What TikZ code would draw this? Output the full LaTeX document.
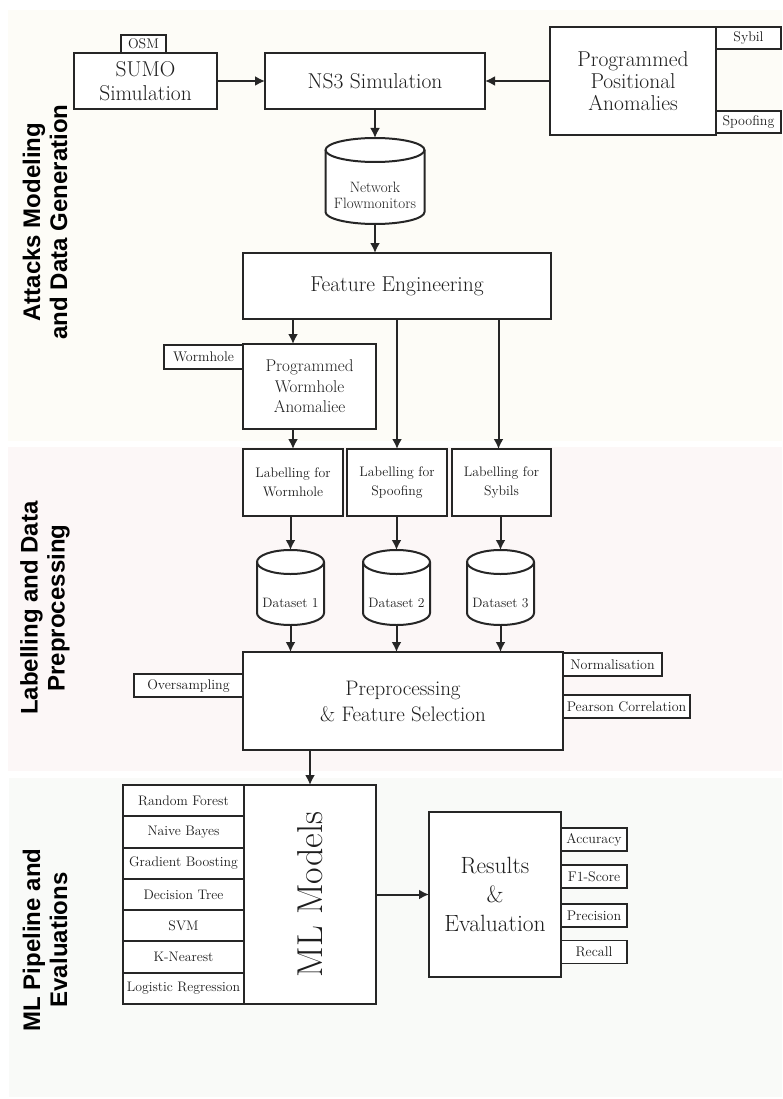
\documentclass[tikz,border=0pt]{standalone}
\usepackage{fontspec}
\usepackage{graphicx}
\newfontfamily\sidefont{Liberation Sans}
\usetikzlibrary{arrows.meta,calc}
\definecolor{panA}{RGB}{253,252,247}
\definecolor{panB}{RGB}{252,247,247}
\definecolor{panC}{RGB}{249,250,248}
\definecolor{ink}{RGB}{38,38,38}
\definecolor{txt}{RGB}{30,30,30}
\pgfdeclarelayer{bg}\pgfdeclarelayer{mid}\pgfsetlayers{bg,mid,main}
\newcommand\fs[2]{\fontsize{#1}{#2}\selectfont}
\newcommand\cylinder[2]{%
  \draw[cyl] ([yshift=-12pt]#1.north west) -- ([yshift=12pt]#1.south west)
    arc[start angle=180,end angle=360,x radius=#2,y radius=12pt]
    -- ([yshift=-12pt]#1.north east)
    arc[start angle=0,end angle=180,x radius=#2,y radius=12pt] -- cycle;
  \draw[draw=ink,line width=2pt] ([yshift=-12pt]#1.north west)
    arc[start angle=180,end angle=360,x radius=#2,y radius=12pt];
}
\tikzset{
  box/.style={draw=ink, line width=2pt, fill=white, inner sep=0pt, outer sep=0pt, align=center, text=txt},
  tag/.style={draw=ink, line width=1.7pt, fill=white, inner sep=0pt, outer sep=0pt, align=center, text=txt, font=\fs{14}{15}},
  big/.style={font=\fs{21.5}{24}},
  arr/.style={draw=ink, line width=2pt, -{Latex[length=10pt,width=10pt]}},
  cyl/.style={draw=ink, line width=2pt, fill=white},
  cylnode/.style={inner sep=0pt, outer sep=0pt},
  cyltext/.style={align=center, text=txt, inner sep=0pt},
  side/.style={rotate=90, align=center, font=\sidefont\bfseries\fs{24}{27}, text=black},
}
\begin{document}
\begin{tikzpicture}[x=1pt,y=1pt]
\useasboundingbox (0,0) rectangle (782,-1099);
\begin{pgfonlayer}{bg}
  \fill[white] (0,0) rectangle (782,-1099);
  \fill[panA] (8,-10) rectangle (782,-441);
  \fill[panB] (8,-447) rectangle (782,-771);
  \fill[panC] (9,-778) rectangle (782,-1097);
\end{pgfonlayer}

% side labels
\node[side] (sideA) at (45,-222) {Attacks Modeling\\and Data Generation};
\node[side] (sideB) at (45,-608) {Labelling and Data\\Preprocessing};
\node[side] (sideC) at (45,-940) {ML Pipeline and\\Evaluations};

% top section
\node[box, big, minimum width=143pt, minimum height=56pt] (sumo) at (145.5,-81) {SUMO\\Simulation};
\node[tag, minimum width=45pt, minimum height=18pt] (osm) at (143.5,-44) {OSM};
\node[box, big, minimum width=220pt, minimum height=56pt] (ns3) at (375,-81) {NS3 Simulation};
\node[box, font=\fs{21.5}{22}, minimum width=166pt, minimum height=108pt] (ppa) at (633,-81) {Programmed\\Positional\\Anomalies};
\node[tag, minimum width=65pt, minimum height=22pt] (sybil) at (748.5,-38) {Sybil};
\node[tag, minimum width=65pt, minimum height=22pt] (spoof) at (748.5,-122) {Spoofing};

\node[cylnode, minimum width=99pt, minimum height=86pt] (nfm) at (375,-181) {};
\node[cyltext, font=\fs{15}{16}] (nfmt) at (375,-195) {Network\\Flowmonitors};

\node[box, big, minimum width=308pt, minimum height=66pt] (fe) at (397,-286) {Feature Engineering};
\node[box, font=\fs{17}{20.5}, minimum width=133pt, minimum height=85pt] (pwa) at (309.5,-386.5) {Programmed\\Wormhole\\Anomaliee};
\node[tag, minimum width=79pt, minimum height=24pt] (worm) at (203.5,-357) {Wormhole};

% labelling
\node[box, font=\fs{13.8}{19}, minimum width=100pt, minimum height=67pt] (lab1) at (293,-482.5) {Labelling for\\Wormhole};
\node[box, font=\fs{13.8}{19}, minimum width=100pt, minimum height=67pt] (lab2) at (397,-482.5) {Labelling for\\Spoofing};
\node[box, font=\fs{13.8}{19}, minimum width=99pt, minimum height=67pt] (lab3) at (501.5,-482.5) {Labelling for\\Sybils};

\node[cylnode, minimum width=67pt, minimum height=75pt] (ds1) at (290.5,-587.5) {};
\node[cylnode, minimum width=67pt, minimum height=75pt] (ds2) at (396.5,-587.5) {};
\node[cylnode, minimum width=67pt, minimum height=75pt] (ds3) at (500.5,-587.5) {};
\node[cyltext, font=\fs{13.6}{15}] (ds1t) at (290.5,-603) {Dataset 1};
\node[cyltext, font=\fs{13.6}{15}] (ds2t) at (396.5,-603) {Dataset 2};
\node[cyltext, font=\fs{13.6}{15}] (ds3t) at (500.5,-603) {Dataset 3};

\node[box, font=\fs{21}{26}, minimum width=320pt, minimum height=98pt] (pre) at (403,-701) {Preprocessing\\\& Feature Selection};
\node[tag, minimum width=109pt, minimum height=23pt] (overs) at (188.5,-685.5) {Oversampling};
\node[tag, minimum width=99pt, minimum height=23pt] (norm) at (612.5,-664.5) {Normalisation};
\node[tag, minimum width=127pt, minimum height=23pt] (pear) at (626.5,-706.5) {Pearson Correlation};

% ML section
\node[box, minimum width=132pt, minimum height=219pt] (ml) at (310,-894.5) {\rotatebox{90}{\fs{36}{38}ML Models}};
\foreach \t [count=\i] in {Random Forest, Naive Bayes, Gradient Boosting, Decision Tree, SVM, K-Nearest, Logistic Regression}
  \node[tag, line width=2pt, font=\fs{13.8}{15}, minimum width=121pt, minimum height=31.29pt] (m\i) at (183.5,{-785-31.2857*(\i-0.5)}) {\t};

\node[box, font=\fs{23.5}{29}, minimum width=132pt, minimum height=165pt] (res) at (495,-894.5) {Results\\\&\\Evaluation};
\node[tag, minimum width=66pt, minimum height=23pt] (acc) at (594,-839.5) {Accuracy};
\node[tag, minimum width=66pt, minimum height=23pt] (f1) at (594,-876.5) {F1-Score};
\node[tag, minimum width=66pt, minimum height=23pt] (prec) at (594,-915.5) {Precision};
\node[tag, minimum width=66pt, minimum height=23pt] (rec) at (594,-952) {Recall};

\begin{pgfonlayer}{mid}
  \cylinder{nfm}{49.5pt}
  \cylinder{ds1}{33.5pt}
  \cylinder{ds2}{33.5pt}
  \cylinder{ds3}{33.5pt}
\end{pgfonlayer}

% connectors
\draw[arr] (sumo.east) -- (ns3.west);
\draw[arr] (ppa.west) -- (ns3.east);
\draw[arr] (ns3.south) -- (nfm.north);
\draw[arr] (nfm.south) -- (nfm.south |- fe.north);
\draw[arr] (fe.south -| lab1.north) -- (pwa.north -| lab1.north);
\draw[arr] (pwa.south -| lab1.north) -- (lab1.north);
\draw[arr] (fe.south -| lab2.north) -- (lab2.north);
\draw[arr] ([xshift=-3pt]fe.south -| lab3.north) -- ([xshift=-3pt]lab3.north);
\draw[arr] (lab1.south -| ds1.north) -- (ds1.north);
\draw[arr] (lab2.south -| ds2.north) -- (ds2.north);
\draw[arr] (lab3.south -| ds3.north) -- (ds3.north);
\draw[arr] (ds1.south) -- (ds1.south |- pre.north);
\draw[arr] (ds2.south) -- (ds2.south |- pre.north);
\draw[arr] (ds3.south) -- (ds3.south |- pre.north);
\draw[arr] (pre.south -| ml.north) -- (ml.north);
\draw[arr] (ml.east) -- (res.west);
\end{tikzpicture}
\end{document}
